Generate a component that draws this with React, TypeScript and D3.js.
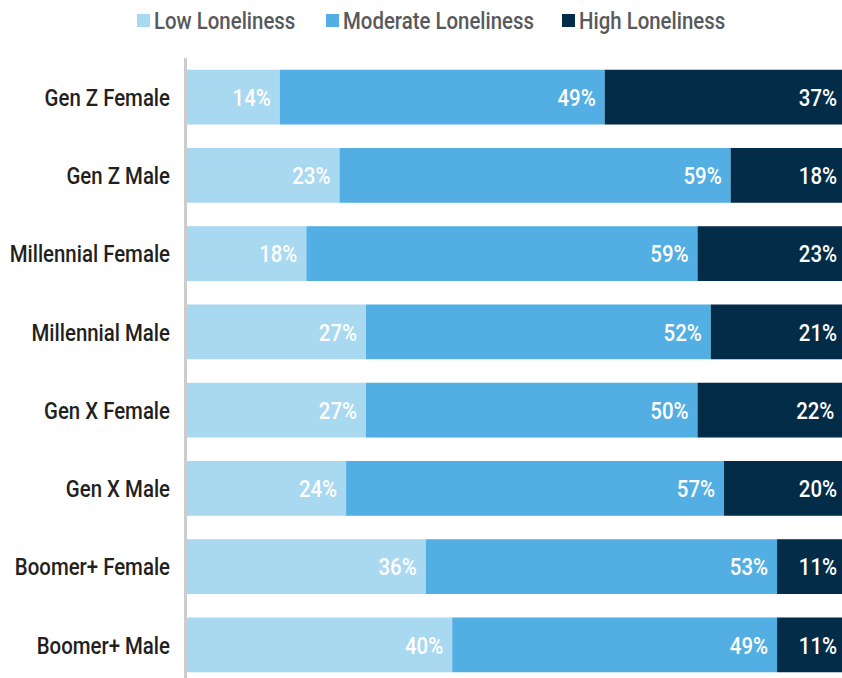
import * as d3 from 'd3';
import React, { useEffect, useRef } from "react";

const categories = [
    'Gen Z Female', 'Gen Z Male', 'Millennial Female', 'Millennial Male',
    'Gen X Female', 'Gen X Male', 'Boomer+ Female', 'Boomer+ Male'
];
const lowValues = [14, 23, 18, 27, 27, 24, 36, 40];
const moderateValues = [49, 59, 59, 52, 50, 57, 53, 49];
const highValues = [37, 18, 23, 21, 22, 20, 11, 11];
const seriesNames = ['Low Loneliness', 'Moderate Loneliness', 'High Loneliness'];
const seriesColors = ['#a9d8f1', '#52aee3', '#032c48'];

// no condensed face is installed, so Roboto gets squeezed horizontally
const FONT = 'Roboto, "Noto Sans", sans-serif';
const SQUEEZE = 0.85;

const App: React.FC = () => {
    const ref = useRef<SVGSVGElement>(null);

    useEffect(() => {
        if (!ref.current) return;
        const width = 842;
        const height = 678;

        const svg = d3.select(ref.current)
            .attr('width', width)
            .attr('height', height);
        svg.selectAll('*').remove();

        const rows = categories.map((c, i) => ({
            category: c,
            low: lowValues[i],
            moderate: moderateValues[i],
            high: highValues[i]
        }));
        const keys = ['low', 'moderate', 'high'];
        const stacked = d3.stack<any>().keys(keys)(rows);

        const x = d3.scaleLinear().domain([0, 100]).range([187, 850]);
        const y = d3.scaleBand<string>()
            .domain(categories)
            .range([58, 684])
            .paddingInner(0.3)
            .paddingOuter(0.15);

        const place = (tx: number, ty: number) => `translate(${tx},${ty}) scale(${SQUEEZE},1)`;

        const g = svg.append('g');

        stacked.forEach((layer, li) => {
            const grp = g.append('g');
            grp.selectAll('rect')
                .data(layer)
                .enter()
                .append('rect')
                .attr('x', d => x(d[0]))
                .attr('y', d => y(d.data.category)!)
                .attr('width', d => x(d[1]) - x(d[0]))
                .attr('height', y.bandwidth())
                .attr('fill', seriesColors[li]);

            grp.selectAll('text')
                .data(layer)
                .enter()
                .append('text')
                .attr('transform', d => place(Math.min(x(d[1]) - 9, 837), y(d.data.category)! + y.bandwidth() / 2))
                .attr('dy', '0.36em')
                .attr('text-anchor', 'end')
                .attr('fill', '#fff')
                .style('font-family', FONT)
                .style('font-weight', 500)
                .style('font-size', '24px')
                .text(d => `${d.data[keys[li]]}%`);
        });

        // axis line
        svg.append('line')
            .attr('x1', 185.5).attr('x2', 185.5)
            .attr('y1', 58).attr('y2', height)
            .attr('stroke', '#cccccc')
            .attr('stroke-width', 3);

        // category labels
        svg.append('g').selectAll('text')
            .data(categories)
            .enter()
            .append('text')
            .attr('transform', d => place(170, y(d)! + y.bandwidth() / 2))
            .attr('dy', '0.36em')
            .attr('text-anchor', 'end')
            .attr('fill', '#231f20')
            .style('font-family', FONT)
            .style('font-weight', 500)
            .style('font-size', '24px')
            .text(d => d);

        // legend
        const legendX = [137, 326, 562];
        const legend = svg.append('g');
        seriesNames.forEach((name, i) => {
            legend.append('rect')
                .attr('x', legendX[i])
                .attr('y', 14)
                .attr('width', 13)
                .attr('height', 13)
                .attr('fill', seriesColors[i]);
            legend.append('text')
                .attr('transform', place(legendX[i] + 17, 20.5))
                .attr('dy', '0.36em')
                .attr('fill', '#58595b')
                .style('font-family', FONT)
                .style('font-weight', 500)
                .style('font-size', '24px')
                .text(name);
        });
    }, []);

    return (
        <svg ref={ref} style={{ position: 'absolute', left: 0, top: 0, display: 'block' }}></svg>
    );
}

export default App;
